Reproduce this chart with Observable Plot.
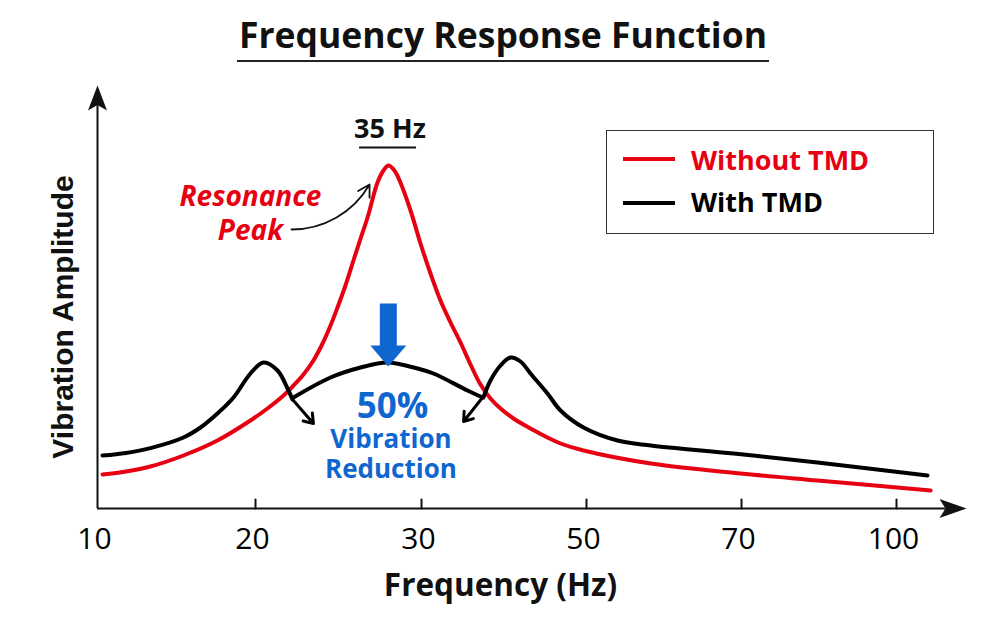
<!DOCTYPE html>
<html>
<head>
<meta charset="utf-8">
<script src="https://cdn.jsdelivr.net/npm/d3@7"></script>
<script src="https://cdn.jsdelivr.net/npm/@observablehq/plot@0.6"></script>
<style>
html,body{margin:0;padding:0;background:#fff;}
#wrap{position:relative;width:1000px;height:625px;overflow:hidden;font-family:"Open Sans",sans-serif;background:#fff;}
#title{position:absolute;left:3px;top:14px;width:1000px;text-align:center;}
#title span{display:inline-block;font-size:35.5px;font-weight:700;line-height:40px;padding:0 2px 6px;border-bottom:2px solid #222;color:#111;}
#chart{position:absolute;left:0;top:70px;}
#legend{position:absolute;left:606px;top:130px;width:328px;height:104px;box-sizing:border-box;border:1.6px solid #333;background:#fff;}
.sw{position:absolute;left:16px;width:52px;height:4px;}
.lt{position:absolute;left:84px;font-size:27px;font-weight:700;line-height:27px;white-space:nowrap;}
</style>
</head>
<body>
<div id="wrap">
  <div id="title"><span>Frequency Response Function</span></div>
  <div id="chart"></div>
  <div id="legend"></div>
</div>
<script>
// ---- data ----
const freqTicks = [10, 20, 30, 50, 70, 100];
const tickLabels = ["10", "20", "30", "50", "70", "100"];

const seriesNames = ["Without TMD", "With TMD"];
const seriesColors = ["#e60012", "#000000"];

// Without TMD (single resonance)
const redFreq = [10.32, 11.8, 13.35, 15.44, 17.59, 19.68, 20.72, 21.69, 22.29, 22.89, 23.49, 24.04, 24.52, 24.94,
                 25.42, 25.9, 26.33, 26.75, 27.35, 27.71, 28.01, 28.37, 28.73, 29.34, 29.94, 31.09, 32.3,
                 33.52, 34.73, 35.94, 37.15, 38.36, 39.58, 41.15, 43.21, 45.27, 46.85, 49.64, 58.3, 69.9, 84.7, 106.6];
const redAmp  = [8.5, 9.25, 10.5, 13.25, 17, 22, 25, 28.25, 30.75, 33.5, 37, 41.25, 45.75, 50.25,
                 55.75, 62, 67.5, 72.75, 81.5, 84.5, 85.75, 84.5, 81.5, 74.5, 66.25, 58.75, 52,
                 46.5, 41.5, 36, 31, 27.5, 25, 22.5, 20, 17.75, 16.25, 14.5, 11.25, 8.75, 7, 4.5];

// With TMD (split peaks, drawn as three strokes)
const blackFreq = [10.32, 11.8, 13.35, 15.44, 16.52, 17.59, 18.61, 19.68, 20.48, 21.33, 21.93, 22.23,
                   22.29, 24.52, 26.33, 27.95, 29.76, 31.45, 35.58, 37.4,
                   37.5, 38.36, 39.58, 40.8, 42.0, 43.21, 45.27, 46.85, 49.64, 54.0, 58.3, 69.0, 84.7, 106.0];
const blackAmp  = [13.25, 13.9, 15.1, 17.75, 20.25, 23.75, 27.75, 33.75, 36.5, 34.5, 30, 27.25,
                   27.75, 32.75, 35.25, 36.5, 35, 33.75, 29.5, 27.75,
                   27.75, 32, 35.75, 37.75, 36.75, 33.75, 28.75, 24.5, 20.25, 17, 15.75, 13.75, 11.5, 8.25];
const blackSeg  = [0,0,0,0,0,0,0,0,0,0,0,0, 1,1,1,1,1,1,1,1, 2,2,2,2,2,2,2,2,2,2,2,2,2,2];

// annotations
const peakLabel = "35 Hz";
const peakLabelPos = {x: 28.1, y: 92.75};
const peakUnderline = {x1: 26.27, x2: 29.7, y: 90.25};
const resonanceText = "Resonance\nPeak";
const resonancePos = {x: 19.68, y: 67.25};
const resonanceArrow = [{x1: 22.17, y1: 69.75, x2: 26.87, y2: 81}];
const dropArrows = [
  {x1: 22.23, y1: 27.25, x2: 23.49, y2: 21.25},
  {x1: 37.4, y1: 27.75, x2: 35.1, y2: 21.75}
];
const reductionPct = "50%";
const reductionPctPos = {x: 28.25, y: 22.75};
const reductionText = "Vibration\nReduction";
const reductionPos = {x: 28.16, y: 7.75};
const bigArrow = [{x: 28, y: 51.25}];
const yTop = 105.75;
const xLineEnd = 109.5;
const xTip = 113.55;

// ---- build rows ----
const redRows = redFreq.map((f, i) => ({f, a: redAmp[i]}));
const blackRows = blackFreq.map((f, i) => ({f, a: blackAmp[i], seg: blackSeg[i]}));
const blue = "#0f66cf";

// custom vector shapes
const lineShape = {draw(ctx, l) { ctx.moveTo(0, 0); ctx.lineTo(0, -l); }};
const headShape = {draw(ctx, l) { const w = 9.5; ctx.moveTo(0, -l); ctx.lineTo(-w, 0); ctx.lineTo(0, -l * 0.22); ctx.lineTo(w, 0); ctx.closePath(); }};
const blockShape = {draw(ctx, l) {
  const sw = 8.5, hw = 18, hl = 21;
  ctx.moveTo(-sw, 0); ctx.lineTo(-sw, -(l - hl)); ctx.lineTo(-hw, -(l - hl));
  ctx.lineTo(0, -l); ctx.lineTo(hw, -(l - hl)); ctx.lineTo(sw, -(l - hl)); ctx.lineTo(sw, 0); ctx.closePath();
}};

const chart = Plot.plot({
  width: 1000,
  height: 555,
  marginTop: 15,
  marginBottom: 117,
  marginLeft: 97,
  marginRight: 97,
  // piecewise linear frequency axis (labelled ticks drawn roughly evenly spaced)
  x: {type: "linear", domain: freqTicks, range: [97, 255, 421, 586, 741, 896]},
  y: {type: "linear", domain: [0, yTop], axis: null},
  style: {fontFamily: "Open Sans", color: "#000", background: "transparent", overflow: "visible"},
  marks: [
    // axes
    Plot.ruleX([10], {y1: 0, y2: yTop - 5, stroke: "#111", strokeWidth: 2}),
    Plot.ruleY([0], {x1: 10, x2: xLineEnd, stroke: "#111", strokeWidth: 2}),
    Plot.vector([{x: 10, y: yTop}], {x: "x", y: "y", rotate: 0, length: 25, anchor: "end", shape: headShape, fill: "#111", stroke: "none"}),
    Plot.vector([{x: xTip, y: 0}], {x: "x", y: "y", rotate: 90, length: 27, anchor: "end", shape: headShape, fill: "#111", stroke: "none"}),
    Plot.vector(freqTicks.slice(1), {x: d => d, y: d => 0, length: 9, anchor: "start", shape: lineShape, stroke: "#111", strokeWidth: 2}),
    Plot.axisX(freqTicks, {tickSize: 0, tickPadding: 19, fontSize: 30, fontWeight: 500, dx: -3,
      tickFormat: d => tickLabels[freqTicks.indexOf(d)], label: null}),
    Plot.text(["Frequency (Hz)"], {frameAnchor: "bottom", dy: 87, lineAnchor: "bottom", fontSize: 31.5, fontWeight: 700, fill: "#111"}),
    Plot.text(["Vibration Amplitude"], {frameAnchor: "left", textAnchor: "middle", rotate: -90, dx: -34.6, dy: 20, fontSize: 30, fontWeight: 700, fontFamily: "Liberation Sans", fill: "#111"}),

    // series
    Plot.line(redRows, {x: "f", y: "a", stroke: seriesColors[0], strokeWidth: 4, curve: "catmull-rom"}),
    Plot.line(blackRows, {x: "f", y: "a", z: "seg", stroke: seriesColors[1], strokeWidth: 4, curve: "catmull-rom"}),
    Plot.arrow(dropArrows, {x1: "x1", y1: "y1", x2: "x2", y2: "y2", stroke: "#000", strokeWidth: 3, headLength: 12, headAngle: 70}),

    // resonance annotation
    Plot.text([peakLabel], {x: peakLabelPos.x, y: peakLabelPos.y, lineAnchor: "bottom", fontSize: 27, fontWeight: 700, fill: "#111"}),
    Plot.ruleY([peakUnderline.y], {x1: peakUnderline.x1, x2: peakUnderline.x2, stroke: "#111", strokeWidth: 2}),
    Plot.text([resonanceText], {x: resonancePos.x, y: resonancePos.y, lineAnchor: "bottom", lineHeight: 1.21,
      fontSize: 28, fontWeight: 700, fontStyle: "italic", fill: seriesColors[0]}),
    Plot.arrow(resonanceArrow, {x1: "x1", y1: "y1", x2: "x2", y2: "y2", bend: -30, stroke: "#111", strokeWidth: 1.8, headLength: 11}),

    // reduction annotation
    Plot.vector(bigArrow, {x: "x", y: "y", rotate: 180, length: 63, anchor: "start", shape: blockShape, fill: blue, stroke: "none"}),
    Plot.text([reductionPct], {x: reductionPctPos.x, y: reductionPctPos.y, lineAnchor: "bottom", fontSize: 35, fontWeight: 700, fill: blue}),
    Plot.text([reductionText], {x: reductionPos.x, y: reductionPos.y, lineAnchor: "bottom", lineHeight: 1.15,
      fontSize: 26, fontWeight: 700, fill: blue})
  ]
});
document.getElementById("chart").appendChild(chart);

// legend
const legend = document.getElementById("legend");
const swTops = [26, 70];
const txtTops = [15, 57];
seriesNames.forEach((name, i) => {
  const sw = document.createElement("div");
  sw.className = "sw";
  sw.style.top = swTops[i] + "px";
  sw.style.background = seriesColors[i];
  legend.appendChild(sw);
  const t = document.createElement("div");
  t.className = "lt";
  t.style.top = txtTops[i] + "px";
  t.style.color = seriesColors[i];
  t.textContent = name;
  legend.appendChild(t);
});
</script>
</body>
</html>
